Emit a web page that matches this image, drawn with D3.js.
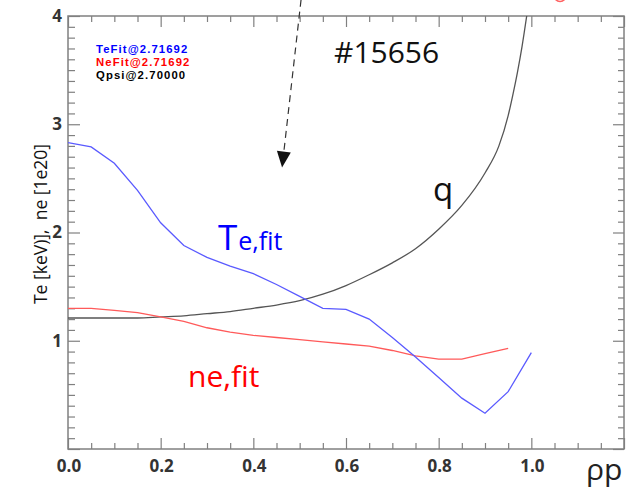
<!DOCTYPE html>
<html>
<head>
<meta charset="utf-8">
<script src="https://cdn.jsdelivr.net/npm/d3@7"></script>
<style>
  html, body { margin: 0; padding: 0; background: #fff; }
  svg { display: block; }
  text { font-family: "Open Sans", "DejaVu Sans", sans-serif; }
</style>
</head>
<body>
<svg id="chart" width="635" height="490"></svg>
<script>
// ---- data ----
const rhoTe = [0, 0.05, 0.1, 0.15, 0.2, 0.25, 0.3, 0.35, 0.4, 0.45, 0.5, 0.55, 0.6, 0.65, 0.7, 0.75, 0.8, 0.85, 0.9, 0.95, 1.0];
const teFit = [2.83, 2.79, 2.64, 2.39, 2.09, 1.88, 1.77, 1.69, 1.62, 1.52, 1.41, 1.30, 1.29, 1.20, 1.03, 0.85, 0.66, 0.47, 0.33, 0.53, 0.89];

const rhoNe = [0, 0.05, 0.1, 0.15, 0.2, 0.25, 0.3, 0.35, 0.4, 0.45, 0.5, 0.55, 0.6, 0.65, 0.7, 0.75, 0.8, 0.85, 0.9, 0.95];
const neFit = [1.30, 1.30, 1.28, 1.26, 1.22, 1.18, 1.12, 1.08, 1.05, 1.03, 1.01, 0.99, 0.97, 0.95, 0.91, 0.86, 0.83, 0.83, 0.88, 0.93];

const rhoQ = [0, 0.05, 0.1, 0.15, 0.2, 0.25, 0.3, 0.35, 0.4, 0.45, 0.5, 0.55, 0.6, 0.65, 0.7, 0.75, 0.8, 0.85, 0.9, 0.93, 0.95, 0.96, 0.97, 0.98, 0.99, 1.0];
const qPsi = [1.21, 1.21, 1.21, 1.21, 1.22, 1.23, 1.25, 1.27, 1.30, 1.33, 1.37, 1.43, 1.51, 1.61, 1.72, 1.85, 2.03, 2.25, 2.55, 2.80, 3.08, 3.27, 3.48, 3.72, 4.00, 4.30];

const xMajorTicks = [0, 0.2, 0.4, 0.6, 0.8, 1.0, 1.2];
const xTickLabels = ["0.0", "0.2", "0.4", "0.6", "0.8", "1.0", ""];
const yMajorTicks = [0, 1, 2, 3, 4];
const yTickLabels = ["", "1", "2", "3", "4"];

const legendLabels = ["TeFit@2.71692", "NeFit@2.71692", "Qpsi@2.70000"];
const titleText = "#15656";
const yAxisTitle = "Te [keV)],  ne [1e20]";

// annotation arrow (data units): start above frame, tip inside
const arrowStart = [0.503, 4.15];
const arrowTip = [0.462, 2.60];
const topMarker = [1.062, 4.19];

// ---- layout ----
const svg = d3.select("#chart");
const L = 68, R = 624, T = 16, B = 449;
const x = d3.scaleLinear().domain([0, 1.2]).range([L, R]);
const y = d3.scaleLinear().domain([0, 4]).range([B, T]);

const axisColor = "#808080";
const labelColor = "#333";

svg.append("defs").append("clipPath").attr("id", "clip")
  .append("rect").attr("x", L).attr("y", T).attr("width", R - L).attr("height", B - T);

// ticks
const xMinor = d3.range(0, 1.2001, 0.05).filter(v => !xMajorTicks.some(m => Math.abs(m - v) < 1e-6));
const yMinor = d3.range(0, 4.0001, 0.1).filter(v => !yMajorTicks.some(m => Math.abs(m - v) < 1e-6));

function drawAxis(axisFn, scale, values, size, transform) {
  const g = svg.append("g").attr("transform", transform)
    .call(axisFn(scale).tickValues(values).tickSize(size).tickFormat(""));
  g.select(".domain").remove();
  g.selectAll(".tick line").attr("stroke", axisColor).attr("stroke-width", 1.2);
  return g;
}
// bottom (ticks inward = upward)
drawAxis(d3.axisTop, x, xMinor, 6, `translate(0,${B})`);
drawAxis(d3.axisTop, x, xMajorTicks, 11, `translate(0,${B})`);
// top (ticks inward = downward)
drawAxis(d3.axisBottom, x, xMinor, 6, `translate(0,${T})`);
drawAxis(d3.axisBottom, x, xMajorTicks, 11, `translate(0,${T})`);
// left (inward = right)
drawAxis(d3.axisRight, y, yMinor, 7, `translate(${L},0)`);
drawAxis(d3.axisRight, y, yMajorTicks, 12, `translate(${L},0)`);
// right (inward = left)
drawAxis(d3.axisLeft, y, yMinor, 6, `translate(${R},0)`);
drawAxis(d3.axisLeft, y, yMajorTicks, 11, `translate(${R},0)`);

// frame
svg.append("rect").attr("x", L).attr("y", T).attr("width", R - L).attr("height", B - T)
  .attr("fill", "none").attr("stroke", axisColor).attr("stroke-width", 1.5);

// tick labels
svg.append("g").selectAll("text").data(xMajorTicks).join("text")
  .attr("x", d => x(d) + 1).attr("y", B + 23)
  .attr("text-anchor", "middle").attr("font-size", 17).attr("font-weight", "bold")
  .attr("fill", labelColor).text((d, i) => xTickLabels[i]);
svg.append("g").selectAll("text").data(yMajorTicks).join("text")
  .attr("x", L - 6).attr("y", d => y(d)).attr("dy", "0.35em")
  .attr("text-anchor", "end").attr("font-size", 17).attr("font-weight", "bold")
  .attr("fill", labelColor).text((d, i) => yTickLabels[i]);

// axis titles
svg.append("text").attr("transform", `translate(47,${224}) rotate(-90)`)
  .attr("text-anchor", "middle").attr("font-size", 17.5).attr("fill", "#111")
  .style("white-space", "pre")
  .text(yAxisTitle);
svg.append("text").attr("x", 586).attr("y", 480)
  .attr("font-size", 30).attr("fill", "#222").text("ρp");

// lines
const plot = svg.append("g").attr("clip-path", "url(#clip)");
const lineLin = d3.line().x(d => x(d[0])).y(d => y(d[1]));
const lineSmooth = d3.line().x(d => x(d[0])).y(d => y(d[1])).curve(d3.curveMonotoneX);

plot.append("path").datum(rhoQ.map((r, i) => [r, qPsi[i]]))
  .attr("d", lineSmooth).attr("fill", "none").attr("stroke", "#555").attr("stroke-width", 1.3);
plot.append("path").datum(rhoNe.map((r, i) => [r, neFit[i]]))
  .attr("d", lineLin).attr("fill", "none").attr("stroke", "#ff5a5a").attr("stroke-width", 1.3);
plot.append("path").datum(rhoTe.map((r, i) => [r, teFit[i]]))
  .attr("d", lineLin).attr("fill", "none").attr("stroke", "#5a5aff").attr("stroke-width", 1.3);

// legend
const legendColors = ["#0000ff", "#ff0000", "#000000"];
svg.append("g").selectAll("text").data(legendLabels).join("text")
  .attr("x", 96).attr("y", (d, i) => 53 + i * 13)
  .style("font-family", "'Liberation Sans', Arial, sans-serif")
  .attr("font-size", 11.3).attr("font-weight", "bold").attr("letter-spacing", 1.1)
  .attr("fill", (d, i) => legendColors[i]).text(d => d);

// title
svg.append("text").attr("x", 334).attr("y", 63).attr("font-size", 30).attr("fill", "#111").text(titleText);

// curve labels
const teLab = svg.append("text").attr("x", 218).attr("y", 250).attr("fill", "#0000ff");
teLab.append("tspan").attr("font-size", 35).text("T");
teLab.append("tspan").attr("font-size", 25).attr("dx", 1).text("e,fit");
svg.append("text").attr("x", 188).attr("y", 387).attr("font-size", 30).attr("fill", "#ff0000").text("ne,fit");
svg.append("text").attr("x", 433).attr("y", 201).attr("font-size", 33).attr("fill", "#111").text("q");

// dashed arrow
const p0 = [x(arrowStart[0]), y(arrowStart[1])];
const p1 = [x(arrowTip[0]), y(arrowTip[1])];
const dx = p1[0] - p0[0], dy = p1[1] - p0[1];
const len = Math.hypot(dx, dy), ux = dx / len, uy = dy / len;
const headLen = 16, headW = 7;
const base = [p1[0] - ux * headLen, p1[1] - uy * headLen];
svg.append("line").attr("x1", p0[0]).attr("y1", p0[1]).attr("x2", base[0]).attr("y2", base[1])
  .attr("stroke", "#333").attr("stroke-width", 1.2).attr("stroke-dasharray", "7,5");
svg.append("path")
  .attr("d", `M${p1[0]},${p1[1]} L${base[0] - uy * headW},${base[1] + ux * headW} L${base[0] + uy * headW},${base[1] - ux * headW} Z`)
  .attr("fill", "#111");

// partial red marker at top edge
svg.append("circle").attr("cx", x(topMarker[0])).attr("cy", y(topMarker[1])).attr("r", 6)
  .attr("fill", "none").attr("stroke", "#ff6060").attr("stroke-width", 1.5);
</script>
</body>
</html>
